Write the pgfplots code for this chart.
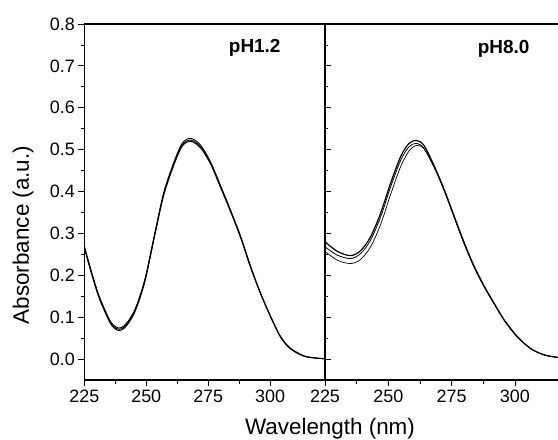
\documentclass[border=0pt]{standalone}
\usepackage{pgfplots}
\pgfplotsset{compat=1.18}
\usepackage{fontspec}
\setmainfont{Liberation Sans}
\begin{document}
\begin{tikzpicture}
\useasboundingbox (0,0) rectangle (558bp,440bp);
\pgfplotsset{
  spec/.style={
    scale only axis,
    height=356bp,
    ymin=-0.05, ymax=0.8,
    tick align=outside,
    major tick length=6bp,
    minor tick length=3.5bp,
    tick style={black, line width=0.8bp},
    axis line style={line width=1.3bp},
    minor x tick num=1,
    minor y tick num=1,
    xtick={225,250,275,300},
    ticklabel style={font=\fontsize{18}{20}\selectfont},
    /pgf/number format/assume math mode=true,
    every axis plot/.append style={line width=0.9bp, smooth, no markers},
    every axis plot post/.append style={black},
  }
}
% pH 1.2
\begin{axis}[spec,
  at={(84.3bp,60bp)}, anchor=south west,
  width=240.4bp,
  xmin=225, xmax=322,
  ytick={0,0.1,0.2,0.3,0.4,0.5,0.6,0.7,0.8},
  yticklabel style={/pgf/number format/.cd,fixed,fixed zerofill,precision=1},
  xtick pos=left, ytick pos=both, yticklabel pos=left,
]
\addplot coordinates {
(225,0.268) (227.6,0.212) (230.9,0.149) (235,0.093) (237,0.077) (239,0.071)
(241,0.076) (243,0.090) (245,0.110) (247,0.140) (249,0.178) (250.4,0.212)
(253.8,0.308) (257.1,0.395) (261.2,0.467) (264.5,0.511) (267.9,0.523) (271.9,0.507)
(276,0.467) (280,0.411) (284,0.354) (288.1,0.291) (292.1,0.220) (296.1,0.157)
(300.2,0.101) (304.2,0.053) (308.2,0.025) (313.6,0.007) (319,0.002) (322,0.001)
};
\addplot coordinates {
(225,0.270) (227.6,0.215) (230.9,0.152) (235,0.096) (237,0.080) (239,0.074)
(241,0.079) (243,0.093) (245,0.113) (247,0.143) (249,0.181) (250.4,0.215)
(253.8,0.311) (257.1,0.399) (261.2,0.471) (264.5,0.515) (267.9,0.527) (271.9,0.511)
(276,0.470) (280,0.414) (284,0.356) (288.1,0.293) (292.1,0.222) (296.1,0.158)
(300.2,0.102) (304.2,0.054) (308.2,0.026) (313.6,0.008) (319,0.002) (322,0.001)
};
\addplot coordinates {
(225,0.266) (227.6,0.210) (230.9,0.147) (235,0.091) (237,0.074) (239,0.068)
(241,0.073) (243,0.087) (245,0.107) (247,0.137) (249,0.175) (250.4,0.209)
(253.8,0.305) (257.1,0.392) (261.2,0.464) (264.5,0.508) (267.9,0.520) (271.9,0.504)
(276,0.465) (280,0.409) (284,0.352) (288.1,0.289) (292.1,0.218) (296.1,0.156)
(300.2,0.100) (304.2,0.052) (308.2,0.024) (313.6,0.007) (319,0.002) (322,0.001)
};
\node[font=\bfseries\fontsize{19}{22}\selectfont] at (rel axis cs:0.709,0.933) {pH1.2};
\end{axis}
% pH 8.0
\begin{axis}[spec,
  at={(325bp,60bp)}, anchor=south west,
  width=233bp,
  xmin=225, xmax=317,
  ytick=\empty,
  axis x line*=box, axis y line*=left,
  xtick pos=left,
]
\addplot[line width=1.2bp] coordinates {
(225,0.280) (229.9,0.257) (235.1,0.247) (239.1,0.259) (243,0.292) (247,0.349)
(250.9,0.420) (254.9,0.484) (258.2,0.515) (261.2,0.522) (264.1,0.510) (268,0.463)
(272,0.406) (275.9,0.343) (279.9,0.279) (283.8,0.223) (287.8,0.175) (291.7,0.134)
(295.7,0.094) (300.9,0.054) (306.2,0.025) (311.5,0.010) (316.7,0.004) (318,0.003)
};
\addplot[line width=0.8bp] coordinates {
(225,0.268) (229.9,0.248) (235.1,0.240) (239.1,0.252) (243,0.284) (247,0.340)
(250.9,0.411) (254.9,0.475) (258.2,0.507) (261.2,0.515) (264.1,0.503) (268,0.459)
(272,0.403) (275.9,0.340) (279.9,0.276) (283.8,0.220) (287.8,0.173) (291.7,0.133)
(295.7,0.093) (300.9,0.053) (306.2,0.025) (311.5,0.010) (316.7,0.004) (318,0.003)
};
\addplot[line width=0.7bp] coordinates {
(225,0.257) (229.9,0.236) (235.1,0.228) (239.1,0.238) (243,0.268) (247,0.322)
(250.9,0.393) (254.9,0.460) (258.2,0.497) (261.2,0.510) (264.1,0.502) (268,0.460)
(272,0.404) (275.9,0.341) (279.9,0.277) (283.8,0.221) (287.8,0.173) (291.7,0.133)
(295.7,0.093) (300.9,0.053) (306.2,0.025) (311.5,0.010) (316.7,0.004) (318,0.003)
};
\node[font=\bfseries\fontsize{19}{22}\selectfont] at (rel axis cs:0.767,0.930) {pH8.0};
\end{axis}
\node[font=\fontsize{22.5}{26}\selectfont] at (330bp,11bp) {Wavelength (nm)};
\node[rotate=90, font=\fontsize{22.5}{26}\selectfont] at (23bp,205bp) {Absorbance (a.u.)};
\end{tikzpicture}
\end{document}
